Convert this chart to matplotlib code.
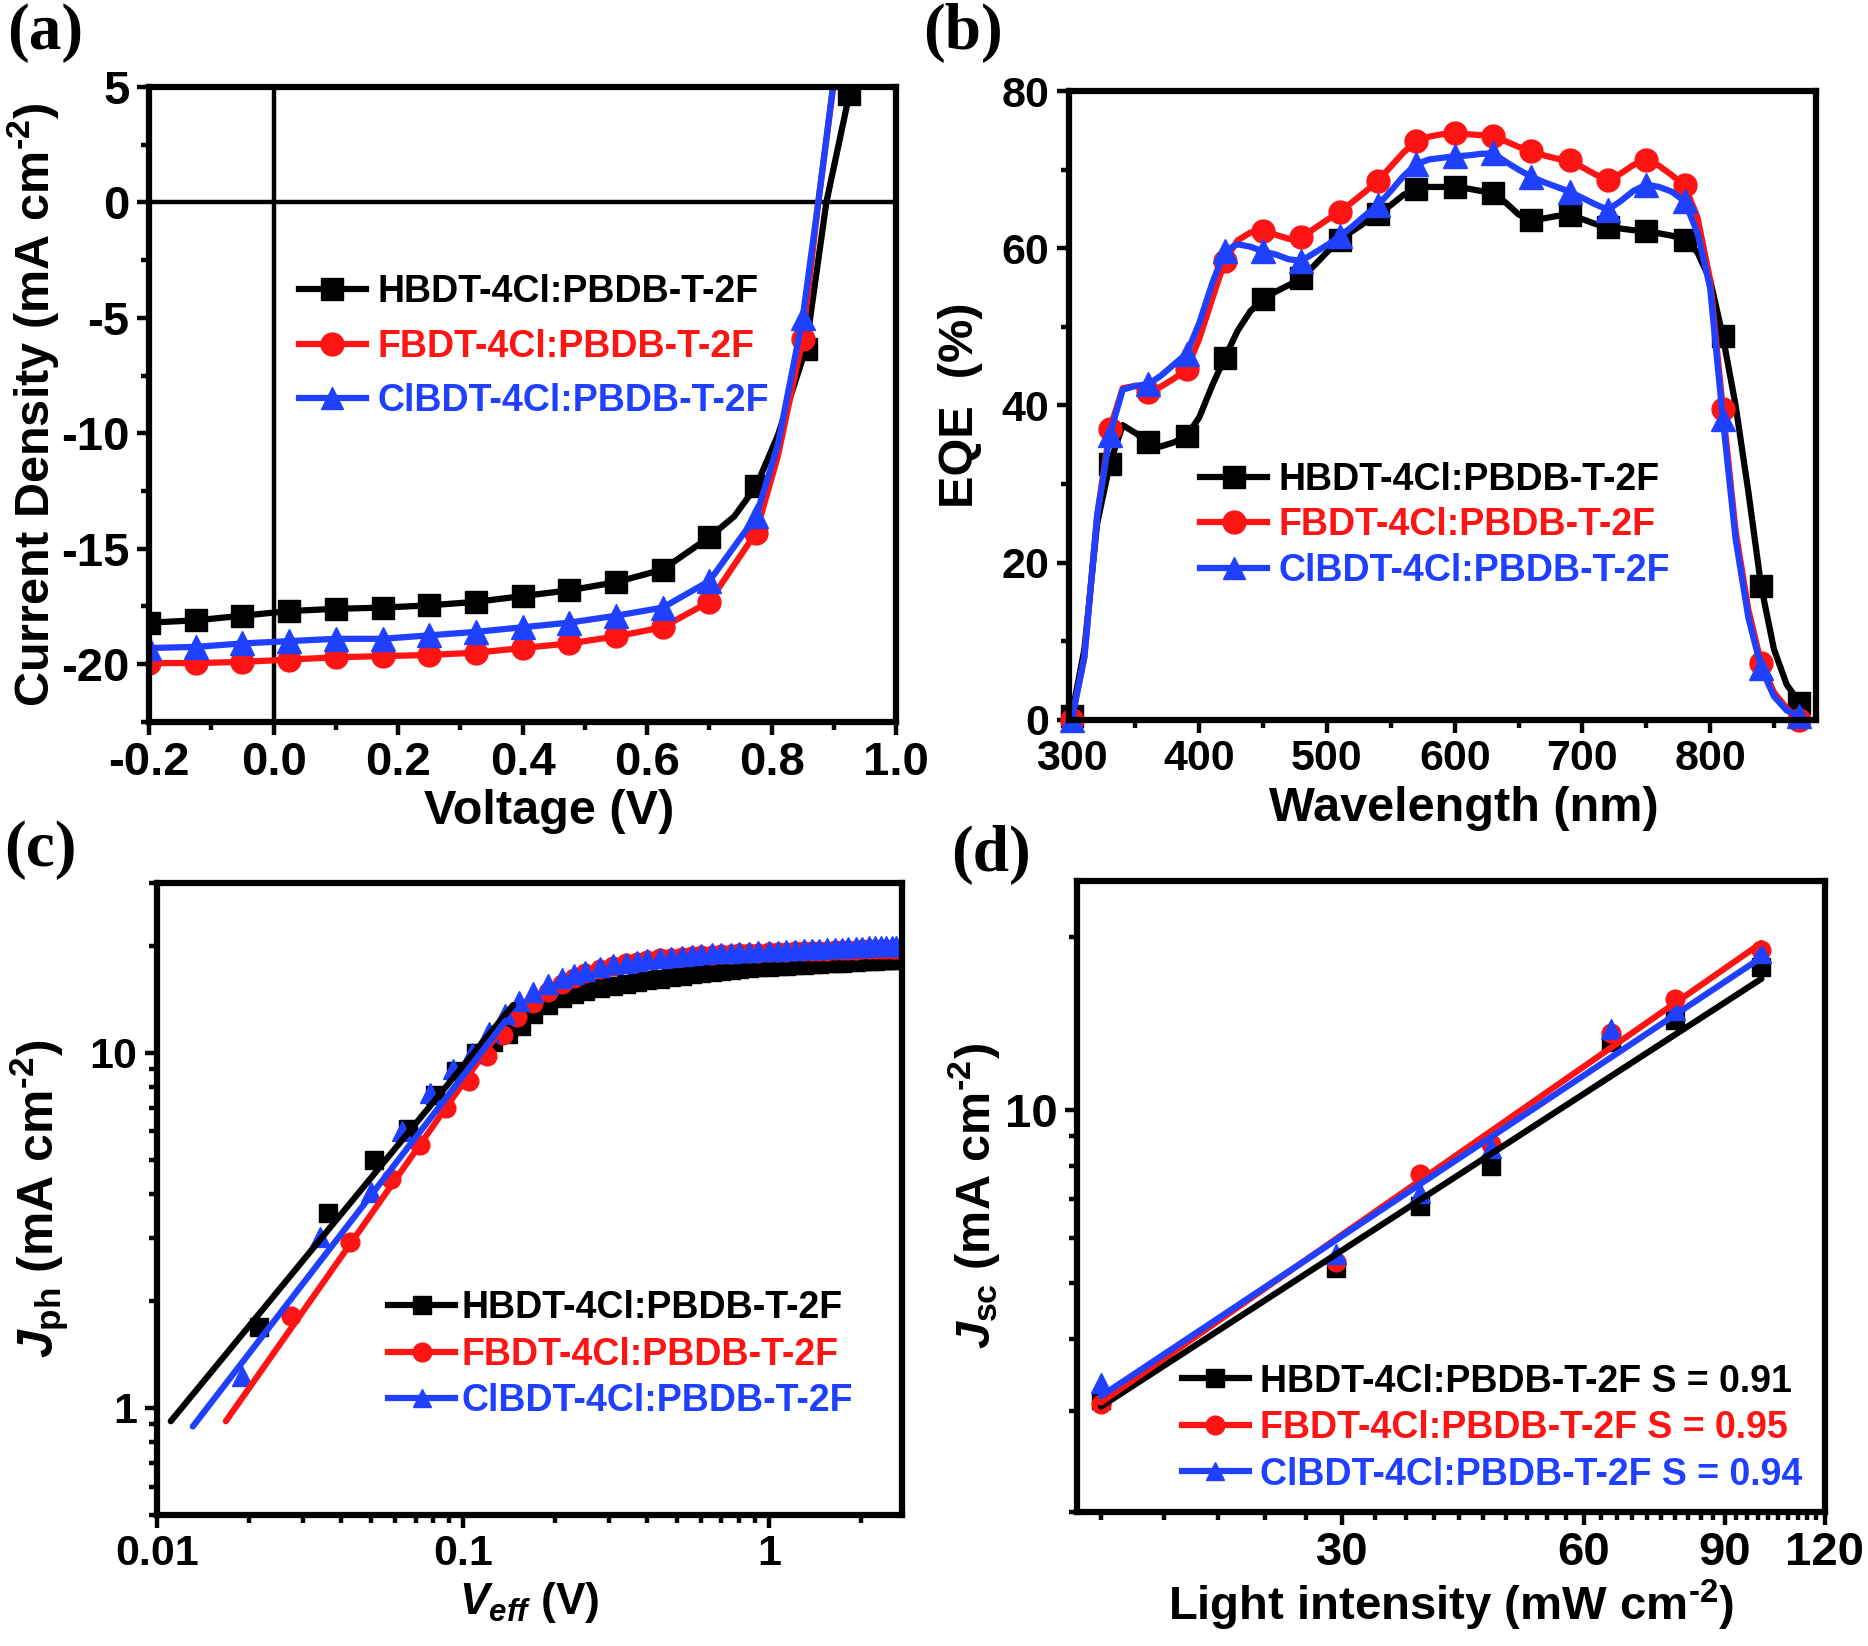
import matplotlib
matplotlib.use("Agg")
import matplotlib.pyplot as plt
from matplotlib.lines import Line2D
from matplotlib.ticker import FixedLocator, NullFormatter, LogLocator

plt.rcParams["font.family"] = "Liberation Sans"
plt.rcParams["font.weight"] = "bold"
plt.rcParams["axes.unicode_minus"] = False
plt.rcParams["mathtext.fontset"] = "custom"
plt.rcParams["mathtext.rm"] = "Liberation Sans:bold"
plt.rcParams["mathtext.bf"] = "Liberation Sans:bold"
plt.rcParams["mathtext.it"] = "Liberation Sans:italic:bold"

BLACK, RED, BLUE = "#000000", "#ff1414", "#2040ff"
NAMES = ["HBDT-4Cl:PBDB-T-2F", "FBDT-4Cl:PBDB-T-2F", "ClBDT-4Cl:PBDB-T-2F"]
UNIT = "(mA cm$^{\u20102}$)"

# (a) J-V curves
jv_v_black = [-0.2, -0.125, -0.05, 0.025, 0.1, 0.175, 0.25, 0.325, 0.4, 0.475, 0.55, 0.625, 0.7, 0.74, 0.775, 0.81, 0.855, 0.888, 0.925, 0.935]
jv_j_black = [-18.2, -18.1, -17.9, -17.7, -17.6, -17.55, -17.45, -17.3, -17.05, -16.8, -16.45, -15.9, -14.5, -13.6, -12.3, -10.1, -6.35, 0.0, 4.7, 6.0]
jv_v_red = [-0.2, -0.125, -0.05, 0.025, 0.1, 0.175, 0.25, 0.325, 0.4, 0.475, 0.55, 0.625, 0.7, 0.775, 0.81, 0.85, 0.875, 0.9]
jv_j_red = [-19.95, -19.95, -19.9, -19.8, -19.7, -19.65, -19.6, -19.5, -19.3, -19.1, -18.8, -18.4, -17.3, -14.3, -11.0, -5.9, 0.0, 5.2]
jv_v_blue = [-0.2, -0.125, -0.05, 0.025, 0.1, 0.175, 0.25, 0.325, 0.4, 0.475, 0.55, 0.625, 0.7, 0.775, 0.81, 0.85, 0.875, 0.9]
jv_j_blue = [-19.3, -19.25, -19.1, -19.0, -18.9, -18.9, -18.75, -18.6, -18.4, -18.2, -17.9, -17.55, -16.4, -13.6, -10.5, -5.0, 0.0, 5.3]
jv_marks_black = [0, 1, 2, 3, 4, 5, 6, 7, 8, 9, 10, 11, 12, 14, 16, 18]
jv_marks_rb = [0, 1, 2, 3, 4, 5, 6, 7, 8, 9, 10, 11, 12, 13, 15]

# (b) EQE spectra
wavelength = [300, 310, 320, 330, 340, 350, 360, 370, 380, 390, 400, 410, 420, 430, 440, 450, 460, 470, 480, 490,
              500, 510, 520, 530, 540, 550, 560, 570, 580, 590, 600, 610, 620, 630, 640, 650, 660, 670, 680, 690,
              700, 710, 720, 730, 740, 750, 760, 770, 780, 790, 800, 810, 820, 830, 840, 850, 860, 870]
eqe_black = [0.5, 9, 25, 32.6, 37.5, 36.5, 35.3, 34.8, 35.3, 36.1, 38.5, 42.5, 46.1, 49.5, 52, 53.5, 54.5, 55.3, 56.2, 57.8,
             59.5, 61.1, 62.2, 63.3, 64.3, 65.5, 66.8, 67.6, 67.8, 67.8, 67.8, 67.6, 67.3, 67.0, 65.8, 64.3, 63.6, 63.8, 64.1, 64.2,
             63.7, 63.1, 62.7, 62.5, 62.3, 62.2, 61.9, 61.6, 61.1, 59.5, 56, 48.8, 40, 29, 17, 9, 4.5, 2.2]
eqe_red = [0, 8, 26, 37, 42.2, 42.5, 41.7, 42.4, 43.4, 44.6, 48.5, 53.5, 58.4, 61, 62, 62.2, 61.7, 61.2, 61.4, 62.5,
           63.6, 64.6, 65.9, 67.2, 68.6, 70.4, 72.2, 73.6, 74.2, 74.5, 74.6, 74.5, 74.4, 74.3, 73.6, 72.9, 72.4, 71.8, 71.4, 71.2,
           70.3, 69.4, 68.7, 69.5, 70.6, 71.2, 70.5, 69.3, 68.0, 64, 56, 39.5, 24, 14, 7.2, 3.5, 1.5, 0]
eqe_blue = [0, 8, 26, 36.3, 42, 42.5, 42.7, 43.8, 45.2, 46.6, 50.5, 55.5, 59.7, 60.5, 60.2, 59.6, 59.2, 58.6, 58.4, 59.4,
            60.4, 61.5, 62.8, 64.2, 65.5, 67.3, 69.2, 70.7, 71.3, 71.5, 71.7, 71.8, 72.0, 72.1, 71, 70, 69.1, 68.4, 67.8, 67.2,
            66.4, 65.6, 64.9, 66, 67.3, 68.1, 67.8, 67.2, 66.0, 62, 55, 38.3, 23, 13, 6.6, 3, 1.2, 0.5]

# (c) photocurrent vs effective voltage
veff_black = [0.0215, 0.0362, 0.0512, 0.066, 0.081, 0.095, 0.11, 0.125, 0.14, 0.155]
jph_black_low = [1.69, 3.53, 4.97, 6.1, 7.6, 8.9, 10.0, 10.7, 11.3, 11.9]
veff_red = [0.0275, 0.0427, 0.058, 0.0726, 0.088, 0.105, 0.12, 0.135, 0.15]
jph_red_low = [1.82, 2.93, 4.4, 5.5, 7.0, 8.3, 9.8, 11.2, 12.6]
veff_blue = [0.019, 0.034, 0.05, 0.063, 0.078, 0.093, 0.107, 0.122, 0.137, 0.152]
jph_blue_low = [1.23, 3.03, 4.04, 6.0, 7.7, 9.0, 10.0, 11.4, 12.8, 14.0]
veff_high = [0.17, 0.19, 0.21, 0.23, 0.25, 0.28, 0.31, 0.34, 0.37, 0.4, 0.44, 0.48, 0.52, 0.56, 0.6, 0.65, 0.7, 0.75, 0.8, 0.86,
             0.92, 1.0, 1.07, 1.14, 1.22, 1.3, 1.38, 1.46, 1.55, 1.64, 1.73, 1.82, 1.92, 2.02, 2.12, 2.22, 2.32, 2.42, 2.52, 2.6]
jph_black_high = [12.8, 13.6, 14.2, 14.6, 14.9, 15.2, 15.4, 15.6, 15.8, 16.0, 16.15, 16.3, 16.45, 16.6, 16.7, 16.85, 16.95, 17.05, 17.15, 17.25,
                  17.35, 17.45, 17.5, 17.55, 17.6, 17.65, 17.7, 17.75, 17.8, 17.85, 17.9, 17.95, 18.0, 18.05, 18.1, 18.1, 18.15, 18.2, 18.2, 18.25]
jph_red_high = [13.8, 14.8, 15.6, 16.2, 16.7, 17.2, 17.5, 17.8, 18.0, 18.2, 18.4, 18.5, 18.6, 18.7, 18.8, 18.85, 18.9, 18.95, 19.0, 19.05,
                19.1, 19.15, 19.2, 19.22, 19.25, 19.28, 19.3, 19.33, 19.36, 19.39, 19.42, 19.45, 19.48, 19.5, 19.52, 19.54, 19.56, 19.58, 19.59, 19.6]
jph_blue_high = [14.8, 15.6, 16.2, 16.6, 17.0, 17.4, 17.7, 17.9, 18.1, 18.3, 18.45, 18.6, 18.7, 18.8, 18.9, 19.0, 19.05, 19.1, 19.15, 19.2,
                 19.25, 19.3, 19.35, 19.4, 19.45, 19.5, 19.55, 19.6, 19.65, 19.7, 19.74, 19.78, 19.82, 19.86, 19.9, 19.93, 19.95, 19.97, 19.99, 20.0]
fit_c_black = ([0.0111, 0.146], [0.918, 13.6])
fit_c_red = ([0.0168, 0.132], [0.918, 11.5])
fit_c_blue = ([0.0131, 0.138], [0.887, 12.3])

# (d) Jsc vs light intensity
intensity = [15, 29.5, 37.5, 46, 65, 78, 100]
jsc_black = [3.13, 5.32, 6.80, 8.0, 13.1, 14.35, 17.7]
jsc_red = [3.08, 5.45, 7.73, 8.71, 13.6, 15.6, 18.96]
jsc_blue = [3.35, 5.61, 7.18, 8.57, 13.8, 14.9, 18.7]
fit_x = [15, 100]
fit_d_black = [3.05, 16.9]
fit_d_red = [3.10, 19.5]
fit_d_blue = [3.18, 18.4]
slopes = ["0.91", "0.95", "0.94"]

LW = 4.5
MS = 16.5
MC = 13.5


def style_axes(ax, labelsize):
    for spine in ax.spines.values():
        spine.set_linewidth(4.5)
    ax.tick_params(which="major", direction="out", length=9, width=3.2, labelsize=labelsize, pad=5)
    ax.tick_params(which="minor", direction="out", length=5.5, width=3.2)


def add_legend(ax, labels, ms, anchor, spacing, textpad=0.3):
    handles = [Line2D([], [], color=c, lw=LW, marker=m, ms=ms)
               for c, m in zip([BLACK, RED, BLUE], ["s", "o", "^"])]
    ax.legend(handles, labels, loc="upper left", bbox_to_anchor=anchor, frameon=False, fontsize=27,
              handlelength=1.8, handletextpad=textpad, labelspacing=spacing, borderpad=0,
              labelcolor="linecolor")


fig = plt.figure(figsize=(18.68, 16.46), dpi=100)
ax_a = fig.add_axes([0.0798, 0.5614, 0.3999, 0.3858])
ax_b = fig.add_axes([0.5723, 0.5626, 0.3999, 0.3821])
ax_c = fig.add_axes([0.0840, 0.0796, 0.3988, 0.3840])
ax_d = fig.add_axes([0.5765, 0.0814, 0.4004, 0.3834])
colors = [BLACK, RED, BLUE]

# (a)
ax_a.axhline(0, color="black", lw=3.2)
ax_a.axvline(0, color="black", lw=3.2)
ax_a.plot(jv_v_black, jv_j_black, color=BLACK, lw=LW, marker="s", ms=MS, markevery=jv_marks_black)
ax_a.plot(jv_v_red, jv_j_red, color=RED, lw=LW, marker="o", ms=MS, markevery=jv_marks_rb)
ax_a.plot(jv_v_blue, jv_j_blue, color=BLUE, lw=LW, marker="^", ms=MS + 1, markevery=jv_marks_rb)
ax_a.set_xlim(-0.2, 1.0)
ax_a.set_ylim(-22.3, 5)
ax_a.set_xticks([-0.2, 0.0, 0.2, 0.4, 0.6, 0.8, 1.0])
ax_a.set_xticks([-0.1, 0.1, 0.3, 0.5, 0.7, 0.9], minor=True)
ax_a.set_yticks([-20, -15, -10, -5, 0, 5])
ax_a.set_yticks([-22.5, -17.5, -12.5, -7.5, -2.5, 2.5], minor=True)
ax_a.set_xlabel("Voltage (V)", fontsize=35, fontweight="bold")
ax_a.xaxis.set_label_coords(0.535, -0.105)
ax_a.set_ylabel("Current Density " + UNIT, fontsize=35, fontweight="bold")
ax_a.yaxis.set_label_coords(-0.118, 0.5)
style_axes(ax_a, 34)
add_legend(ax_a, NAMES, MS, (0.175, 0.735), 0.5)

# (b)
ax_b.plot(wavelength, eqe_black, color=BLACK, lw=LW, marker="s", ms=MS, markevery=3, clip_on=False)
ax_b.plot(wavelength, eqe_red, color=RED, lw=LW, marker="o", ms=MS, markevery=3, clip_on=False)
ax_b.plot(wavelength, eqe_blue, color=BLUE, lw=LW, marker="^", ms=MS + 1, markevery=3, clip_on=False)
ax_b.set_xlim(298, 883)
ax_b.set_ylim(0, 80)
ax_b.set_xticks([300, 400, 500, 600, 700, 800])
ax_b.set_xticks([350, 450, 550, 650, 750, 850], minor=True)
ax_b.set_yticks([0, 20, 40, 60, 80])
ax_b.set_yticks([10, 30, 50, 70], minor=True)
ax_b.set_xlabel("Wavelength (nm)", fontsize=35, fontweight="bold")
ax_b.xaxis.set_label_coords(0.528, -0.105)
ax_b.set_ylabel("EQE  (%)", fontsize=35, fontweight="bold")
ax_b.yaxis.set_label_coords(-0.115, 0.5)
style_axes(ax_b, 31)
add_legend(ax_b, NAMES, MS, (0.15, 0.44), 0.25)

# (c)
ax_c.plot(veff_black + veff_high, jph_black_low + jph_black_high, ls="none", color=BLACK, marker="s", ms=MC)
ax_c.plot(veff_red + veff_high, jph_red_low + jph_red_high, ls="none", color=RED, marker="o", ms=MC)
ax_c.plot(veff_blue + veff_high, jph_blue_low + jph_blue_high, ls="none", color=BLUE, marker="^", ms=MC + 1)
for (fx, fy), c in zip([fit_c_black, fit_c_red, fit_c_blue], colors):
    ax_c.plot(fx, fy, color=c, lw=LW, solid_capstyle="round")
ax_c.set_xscale("log")
ax_c.set_yscale("log")
ax_c.set_xlim(0.01, 2.72)
ax_c.set_ylim(0.5, 30)
ax_c.xaxis.set_major_locator(FixedLocator([0.01, 0.1, 1]))
ax_c.set_xticklabels(["0.01", "0.1", "1"])
ax_c.xaxis.set_minor_locator(LogLocator(subs=range(2, 10)))
ax_c.xaxis.set_minor_formatter(NullFormatter())
ax_c.yaxis.set_major_locator(FixedLocator([1, 10]))
ax_c.set_yticklabels(["1", "10"])
ax_c.yaxis.set_minor_locator(LogLocator(subs=range(2, 10)))
ax_c.yaxis.set_minor_formatter(NullFormatter())
ax_c.set_xlabel(r"$V_{eff}$ (V)", fontsize=32, fontweight="bold", labelpad=4)
ax_c.set_ylabel(r"$J_{\mathrm{ph}}$ " + UNIT, fontsize=36, fontweight="bold")
ax_c.yaxis.set_label_coords(-0.115, 0.5)
style_axes(ax_c, 31)
add_legend(ax_c, NAMES, MC, (0.285, 0.385), 0.28, textpad=0.15)

# (d)
ax_d.plot(intensity, jsc_black, ls="none", color=BLACK, marker="s", ms=MC)
ax_d.plot(intensity, jsc_red, ls="none", color=RED, marker="o", ms=MC)
ax_d.plot(intensity, jsc_blue, ls="none", color=BLUE, marker="^", ms=MC + 1)
for fy, c in zip([fit_d_black, fit_d_red, fit_d_blue], colors):
    ax_d.plot(fit_x, fy, color=c, lw=LW, solid_capstyle="round")
ax_d.set_xscale("log")
ax_d.set_yscale("log")
ax_d.set_xlim(14, 120)
ax_d.set_ylim(2, 25)
ax_d.xaxis.set_major_locator(FixedLocator([30, 60, 90, 120]))
ax_d.set_xticklabels(["30", "60", "90", "120"])
ax_d.xaxis.set_minor_locator(FixedLocator([v for v in range(15, 120, 3) if v % 30 != 0]))
ax_d.xaxis.set_minor_formatter(NullFormatter())
ax_d.yaxis.set_major_locator(FixedLocator([10]))
ax_d.set_yticklabels(["10"])
ax_d.yaxis.set_minor_locator(FixedLocator([2, 3, 4, 5, 6, 7, 8, 9, 20]))
ax_d.yaxis.set_minor_formatter(NullFormatter())
ax_d.set_xlabel("Light intensity " + UNIT.replace("mA", "mW"), fontsize=34, fontweight="bold", labelpad=2)
ax_d.set_ylabel(r"$J_{\mathrm{sc}}$ " + UNIT, fontsize=35, fontweight="bold")
ax_d.yaxis.set_label_coords(-0.10, 0.5)
style_axes(ax_d, 34)
add_legend(ax_d, [f"{n} S = {s}" for n, s in zip(NAMES, slopes)], MC, (0.115, 0.265), 0.28)

for label, x, y in [("(a)", 0.004, 0.998), ("(b)", 0.494, 0.998), ("(c)", 0.002, 0.502), ("(d)", 0.509, 0.499)]:
    fig.text(x, y, label, family="Liberation Serif", fontweight="bold", fontsize=47, va="top", ha="left")

fig.savefig("out.png", dpi=100)
